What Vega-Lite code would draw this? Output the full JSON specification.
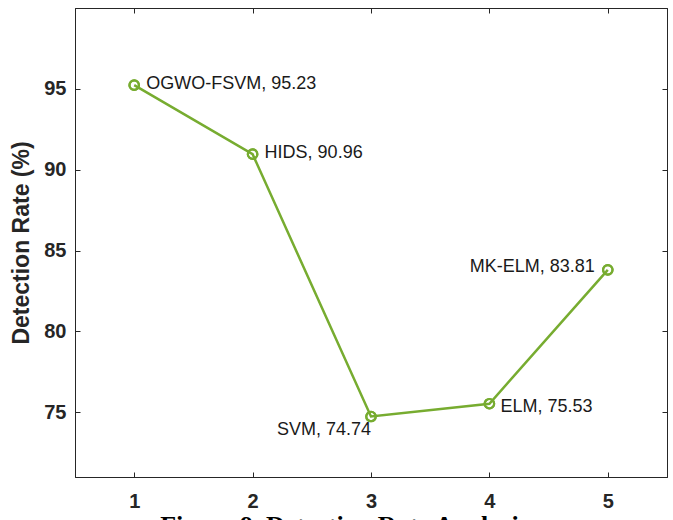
{
  "$schema": "https://vega.github.io/schema/vega-lite/v6.json",
  "width": 592,
  "height": 469,
  "autosize": {"type": "none"},
  "padding": {"left": 75, "top": 8, "right": 6, "bottom": 43},
  "background": "white",
  "config": {
    "view": {"stroke": "#262626", "strokeWidth": 1},
    "axis": {
      "domainColor": "#262626",
      "tickColor": "#262626",
      "tickSize": -5,
      "grid": false,
      "labelFont": "Liberation Sans",
      "labelFontWeight": "bold",
      "labelFontSize": 20,
      "labelColor": "#262626",
      "titleFont": "Liberation Sans",
      "titleFontWeight": "bold",
      "titleColor": "#262626"
    }
  },
  "data": {
    "values": [
      {"idx": 1, "method": "OGWO-FSVM", "rate": 95.23, "label": "OGWO-FSVM, 95.23"},
      {"idx": 2, "method": "HIDS", "rate": 90.96, "label": "HIDS, 90.96"},
      {"idx": 3, "method": "SVM", "rate": 74.74, "label": "SVM, 74.74"},
      {"idx": 4, "method": "ELM", "rate": 75.53, "label": "ELM, 75.53"},
      {"idx": 5, "method": "MK-ELM", "rate": 83.81, "label": "MK-ELM, 83.81"}
    ]
  },
  "layer": [
    {
      "encoding": {
        "x": {
          "field": "idx",
          "type": "quantitative",
          "scale": {"domain": [0.5, 5.5], "nice": false, "zero": false},
          "axis": {
            "values": [1, 2, 3, 4, 5],
            "format": "d",
            "labelPadding": 19,
            "title": "Figure 9. Detection Rate Analysis",
            "titleFont": "Liberation Serif",
            "titleFontSize": 26,
            "titleFontWeight": "bold",
            "titleColor": "#000000",
            "titleBaseline": "alphabetic",
            "titleX": 269,
            "titleY": 56
          }
        },
        "y": {
          "field": "rate",
          "type": "quantitative",
          "scale": {"domain": [71, 100], "nice": false, "zero": false},
          "axis": {
            "values": [75, 80, 85, 90, 95],
            "labelPadding": 14,
            "title": "Detection Rate (%)",
            "titleFontSize": 23,
            "titlePadding": 10
          }
        }
      },
      "layer": [
        {
          "mark": {"type": "line", "color": "#77AC30", "strokeWidth": 2.5}
        },
        {
          "mark": {"type": "point", "shape": "circle", "filled": false, "color": "#77AC30", "size": 90, "strokeWidth": 2.2, "opacity": 1}
        },
        {
          "transform": [{"filter": "datum.idx <= 2"}],
          "mark": {"type": "text", "align": "left", "baseline": "middle", "dx": 12, "dy": -1, "font": "Liberation Sans", "fontSize": 18, "color": "#1a1a1a"},
          "encoding": {"text": {"field": "label"}}
        },
        {
          "transform": [{"filter": "datum.idx == 3"}],
          "mark": {"type": "text", "align": "right", "baseline": "middle", "dx": 0, "dy": 13, "font": "Liberation Sans", "fontSize": 18, "color": "#1a1a1a"},
          "encoding": {"text": {"field": "label"}}
        },
        {
          "transform": [{"filter": "datum.idx == 4"}],
          "mark": {"type": "text", "align": "left", "baseline": "middle", "dx": 11, "dy": 3, "font": "Liberation Sans", "fontSize": 18, "color": "#1a1a1a"},
          "encoding": {"text": {"field": "label"}}
        },
        {
          "transform": [{"filter": "datum.idx == 5"}],
          "mark": {"type": "text", "align": "right", "baseline": "middle", "dx": -13, "dy": -3, "font": "Liberation Sans", "fontSize": 18, "color": "#1a1a1a"},
          "encoding": {"text": {"field": "label"}}
        }
      ]
    },
    {
      "mark": {"type": "point", "shape": "circle", "filled": false, "color": "#77AC30", "size": 90, "strokeWidth": 2.2, "opacity": 1},
      "encoding": {
        "x": {"field": "idx", "type": "quantitative", "axis": {"orient": "top", "values": [1, 2, 3, 4, 5], "labels": false, "title": null}},
        "y": {"field": "rate", "type": "quantitative", "axis": {"orient": "right", "values": [75, 80, 85, 90, 95], "labels": false, "title": null}}
      }
    }
  ],
  "resolve": {"axis": {"x": "independent", "y": "independent"}}
}
